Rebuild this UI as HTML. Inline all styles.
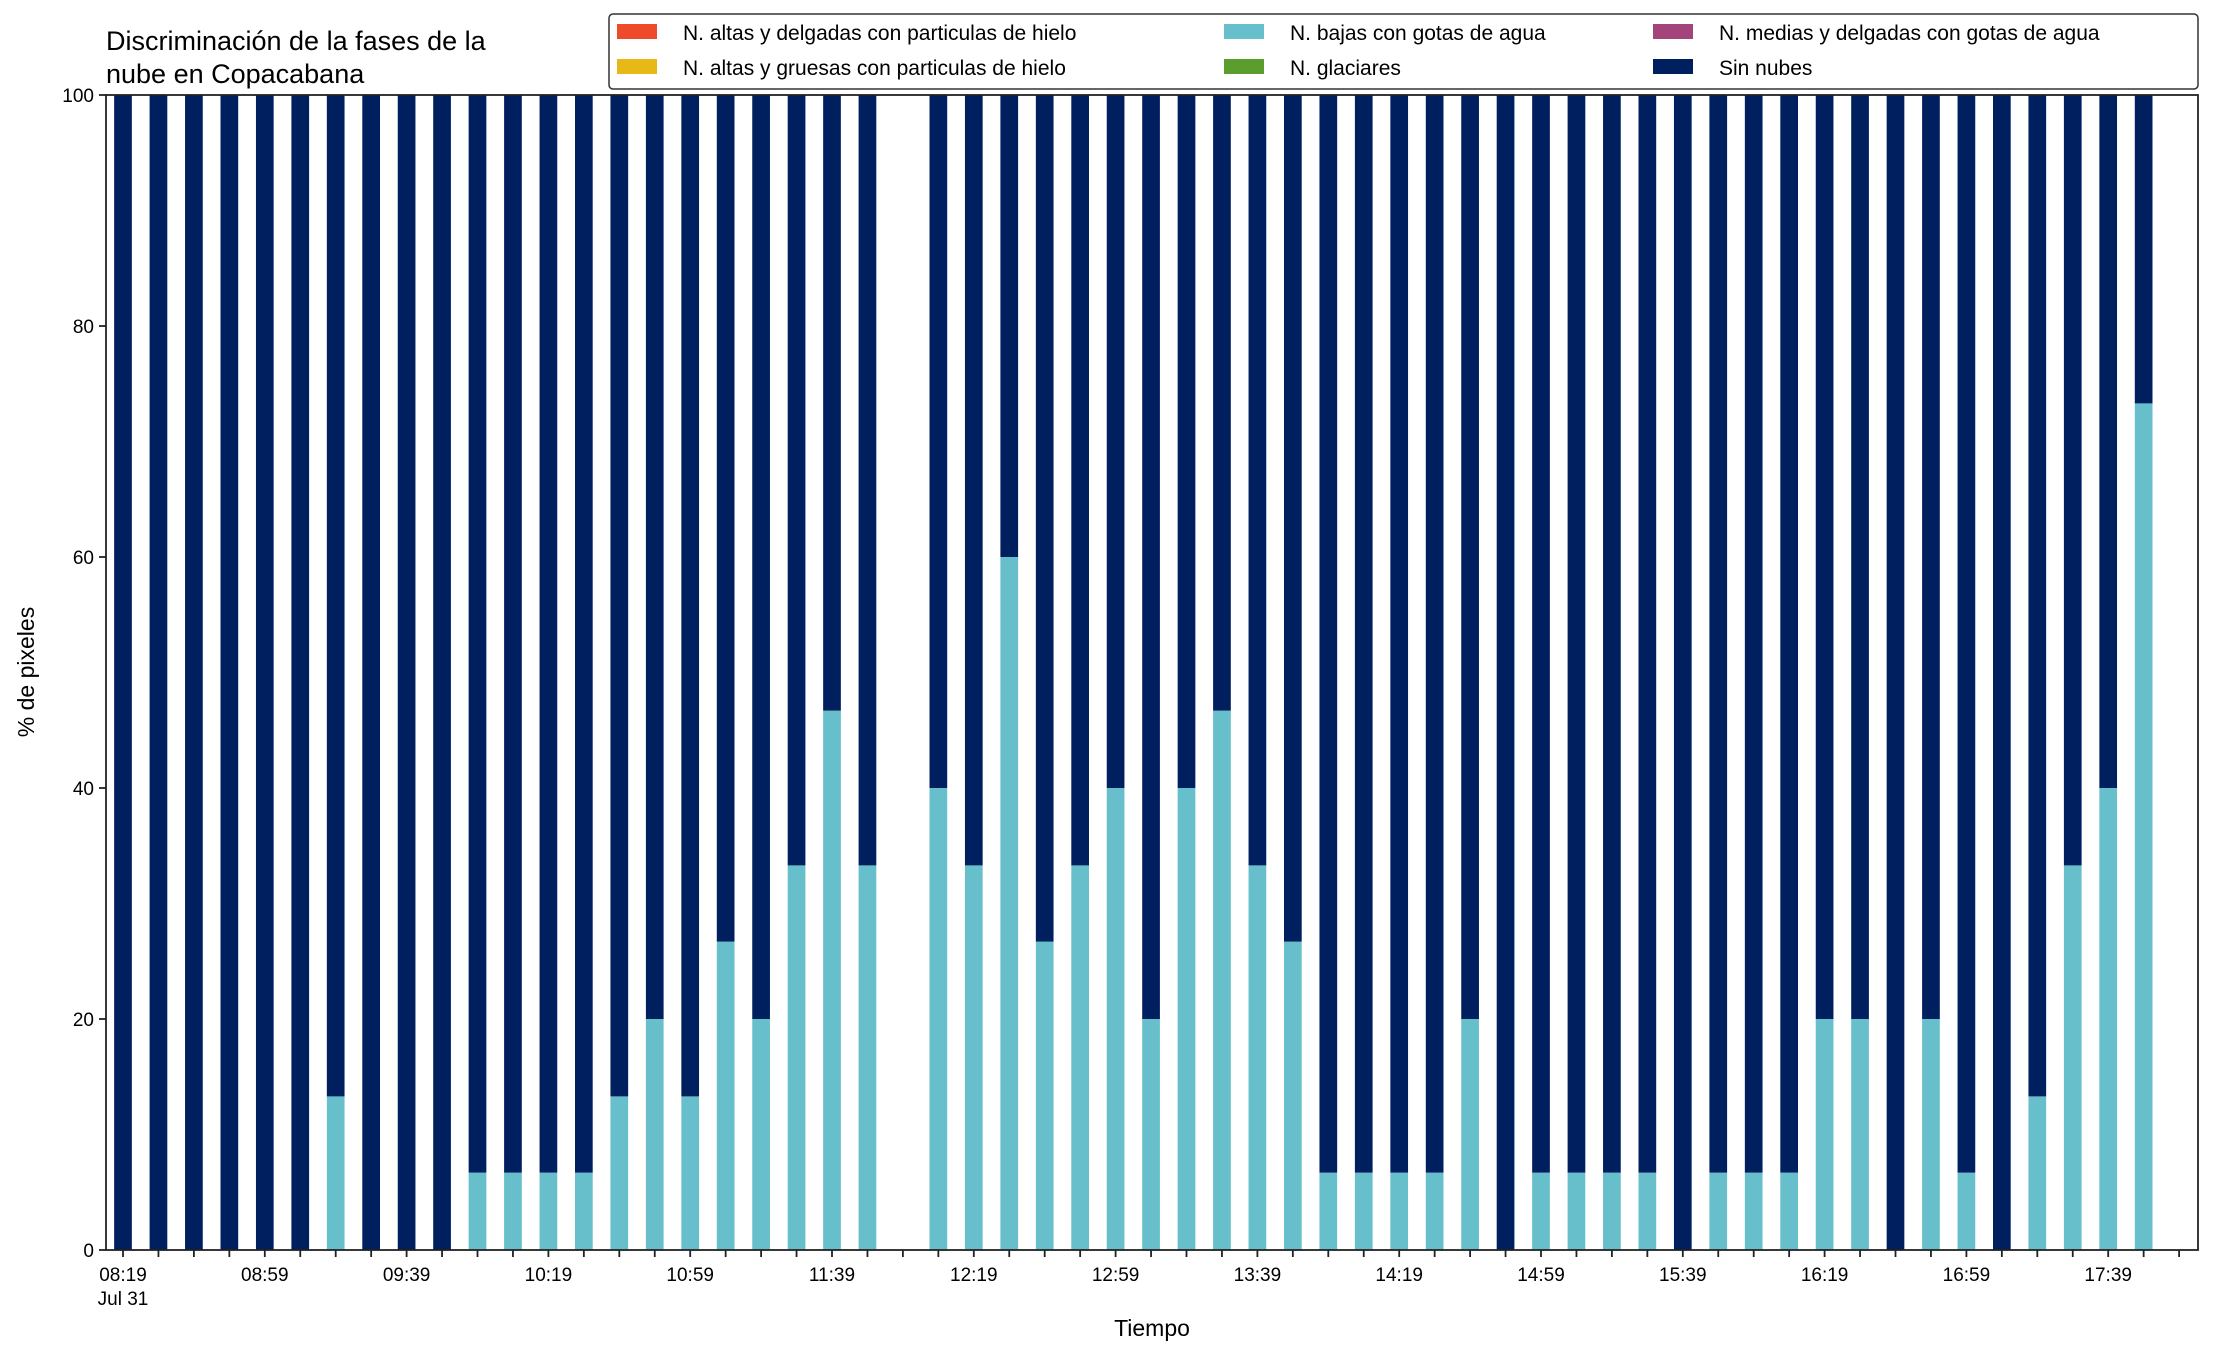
<!DOCTYPE html>
<html><head><meta charset="utf-8"><style>
body{margin:0;background:#fff}
svg text{font-family:"Liberation Sans","DejaVu Sans",sans-serif;fill:#000}
</style></head><body>
<svg id="chart" width="2216" height="1355" viewBox="0 0 2216 1355" xmlns="http://www.w3.org/2000/svg">
<text x="106" y="50" font-size="27">Discriminación de la fases de la</text>
<text x="106" y="83" font-size="27">nube en Copacabana</text>
<g id="plot"></g>
<rect x="106" y="95" width="2092" height="1155" fill="none" stroke="#222" stroke-width="1.8"/>
<g id="axes"></g>
<text transform="translate(34,672) rotate(-90)" text-anchor="middle" font-size="23">% de pixeles</text>
<text x="1152" y="1336" text-anchor="middle" font-size="23">Tiempo</text>
<g>
<rect x="609" y="14" width="1589" height="75" rx="4" fill="#fff" stroke="#333" stroke-width="1.5"/>
<g><rect x="617" y="24" width="40" height="15" fill="#ee4b2b"/><text x="683" y="40" font-size="21">N. altas y delgadas con particulas de hielo</text></g>
<g><rect x="617" y="59" width="40" height="15" fill="#e8b817"/><text x="683" y="75" font-size="21">N. altas y gruesas con particulas de hielo</text></g>
<g><rect x="1224" y="24" width="40" height="15" fill="#66bfca"/><text x="1290" y="40" font-size="21">N. bajas con gotas de agua</text></g>
<g><rect x="1224" y="59" width="40" height="15" fill="#5c9e2e"/><text x="1290" y="75" font-size="21">N. glaciares</text></g>
<g><rect x="1653" y="24" width="40" height="15" fill="#a3447b"/><text x="1719" y="40" font-size="21">N. medias y delgadas con gotas de agua</text></g>
<g><rect x="1653" y="59" width="40" height="15" fill="#001f5f"/><text x="1719" y="75" font-size="21">Sin nubes</text></g>
</g>
</svg>
<script>
const lowCloud = [0,0,0,0,0,0,13.3,0,0,0,6.7,6.7,6.7,6.7,13.3,20,13.3,26.7,20,33.3,46.7,33.3,null,40,33.3,60,26.7,33.3,40,20,40,46.7,33.3,26.7,6.7,6.7,6.7,6.7,20,0,6.7,6.7,6.7,6.7,0,6.7,6.7,6.7,20,20,0,20,6.7,0,13.3,33.3,40,73.3];
const clear = lowCloud.map(v => v === null ? null : 100 - v);
const xLabels = ["08:19","08:59","09:39","10:19","10:59","11:39","12:19","12:59","13:39","14:19","14:59","15:39","16:19","16:59","17:39"];
const yTicks = [0,20,40,60,80,100];
const NS = "http://www.w3.org/2000/svg";
const x = i => 123 + i * 35.45;
const y = v => 1250 - v * 11.55;
const plot = document.getElementById('plot');
const axes = document.getElementById('axes');
function mk(tag, attrs, parent){const e=document.createElementNS(NS,tag);for(const k in attrs)e.setAttribute(k,attrs[k]);parent.appendChild(e);return e;}
const bw = 17.7;
lowCloud.forEach((v,i)=>{
  if(v===null) return;
  if(v>0){
    const r=mk('rect',{x:x(i)-bw/2,y:y(v),width:bw,height:y(0)-y(v),fill:'#66bfca'},plot);
    
    
  }
  const c=clear[i];
  const r2=mk('rect',{x:x(i)-bw/2,y:y(v+c),width:bw,height:y(v)-y(v+c),fill:'#001f5f'},plot);
  
  
});
for(let i=0;i<=58;i++){
  const t=mk('line',{x1:x(i),x2:x(i),y1:1250,y2:1257,stroke:'#222','stroke-width':1.8},axes);
  
  
}
xLabels.forEach((l,k)=>{
  const t=mk('text',{x:x(k*4),y:1281,'text-anchor':'middle','font-size':19},axes);
  t.textContent=l;
  
  
});
const jl=mk('text',{x:x(0),y:1305,'text-anchor':'middle','font-size':19},axes);
jl.textContent='Jul 31';


yTicks.forEach(v=>{
  const t=mk('line',{x1:99,x2:106,y1:y(v),y2:y(v),stroke:'#222','stroke-width':1.8},axes);
  
  
  const l=mk('text',{x:94,y:y(v)+7,'text-anchor':'end','font-size':19},axes);
  l.textContent=v;
  
  
});
</script>
</body></html>
